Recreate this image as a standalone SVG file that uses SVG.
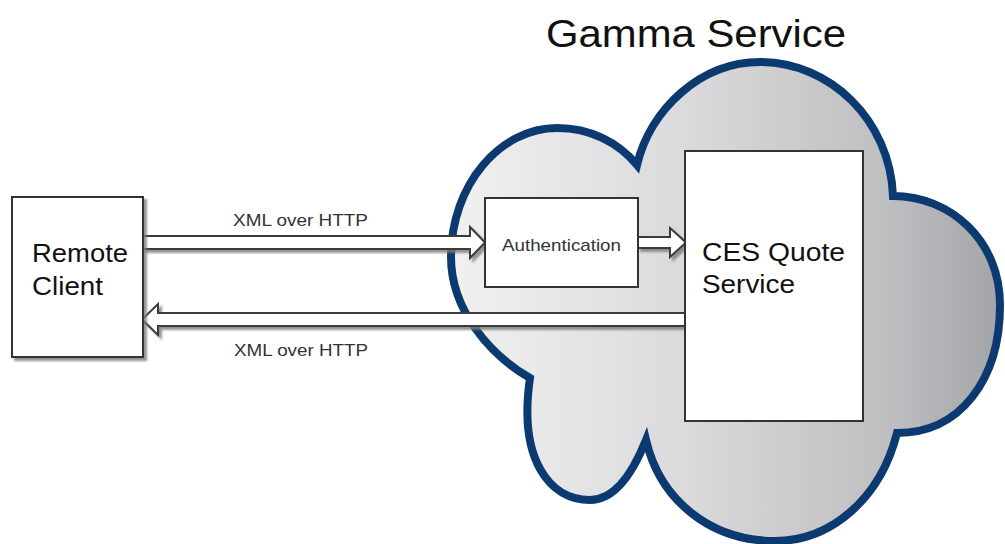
<svg xmlns="http://www.w3.org/2000/svg" width="1005" height="544" viewBox="0 0 1005 544">
  <defs>
    <linearGradient id="cloudFill" gradientUnits="userSpaceOnUse" x1="450" y1="0" x2="1002" y2="0">
      <stop offset="0" stop-color="#f1f1f2"/>
      <stop offset="0.45" stop-color="#d9d9db"/>
      <stop offset="0.8" stop-color="#bebec1"/>
      <stop offset="1" stop-color="#a3a4a7"/>
    </linearGradient>
    <filter id="shadow" x="-10%" y="-20%" width="130%" height="160%">
      <feDropShadow dx="3" dy="3" stdDeviation="1.2" flood-color="#7a7a7a" flood-opacity="0.8"/>
    </filter>
  </defs>
  <style>
    .box { fill: #ffffff; stroke: #333333; stroke-width: 2; }
    .arrow { fill: #ffffff; stroke: #3a3a3a; stroke-width: 2; stroke-linejoin: miter; }
    .big { font-family: "Liberation Sans", Arial, sans-serif; font-size: 26px; fill: #111111; }
    .small { font-family: "Liberation Sans", Arial, sans-serif; font-size: 17px; fill: #333333; }
    .title { font-family: "Liberation Sans", Arial, sans-serif; font-size: 38px; fill: #111111; }
  </style>
  <rect width="1005" height="544" fill="#ffffff"/>

  <g id="gamma-service">
    <path d="M 530,378 C 490,355 451,310 451,257 C 451,185 500,128 557,128 C 590,128 618,142 637,165 C 650,110 700,62 760,62 C 830,62 890,120 893,196 C 950,196 1000,240 1000,305 C 1000,380 960,433 897,433 C 880,500 830,541 775,541 C 710,541 660,500 646,440 C 630,480 612,500 590,500 C 550,500 518,460 530,378 Z" fill="url(#cloudFill)" stroke="#0b3a70" stroke-width="8" stroke-linejoin="miter"/>
    <text class="title" x="546" y="47" textLength="300" lengthAdjust="spacingAndGlyphs">Gamma Service</text>
  </g>

  <g id="connectors">
    <polygon class="arrow" filter="url(#shadow)" points="143,236 470,236 470,227 485,242.5 470,258 470,249 143,249"/>
    <polygon class="arrow" filter="url(#shadow)" points="638,237 670,237 670,228 686,242.5 670,257 670,248 638,248"/>
    <polygon class="arrow" filter="url(#shadow)" points="686,313 158,313 158,304 142,319.5 158,335 158,326 686,326"/>
    <text class="small" x="233" y="226" textLength="135" lengthAdjust="spacingAndGlyphs">XML over HTTP</text>
    <text class="small" x="234" y="356" textLength="134" lengthAdjust="spacingAndGlyphs">XML over HTTP</text>
  </g>

  <g id="remote-client">
    <rect class="box" filter="url(#shadow)" x="12" y="197" width="131" height="160"/>
    <text class="big" x="32" y="262" textLength="96" lengthAdjust="spacingAndGlyphs">Remote</text>
    <text class="big" x="32" y="295" textLength="71" lengthAdjust="spacingAndGlyphs">Client</text>
  </g>

  <g id="authentication">
    <rect class="box" x="485" y="198" width="153" height="89"/>
    <text class="small" x="502" y="251" textLength="119" lengthAdjust="spacingAndGlyphs">Authentication</text>
  </g>

  <g id="ces-quote-service">
    <rect class="box" x="685" y="151" width="178" height="270"/>
    <text class="big" x="702" y="261" textLength="143" lengthAdjust="spacingAndGlyphs">CES Quote</text>
    <text class="big" x="702" y="293" textLength="93" lengthAdjust="spacingAndGlyphs">Service</text>
  </g>
</svg>
